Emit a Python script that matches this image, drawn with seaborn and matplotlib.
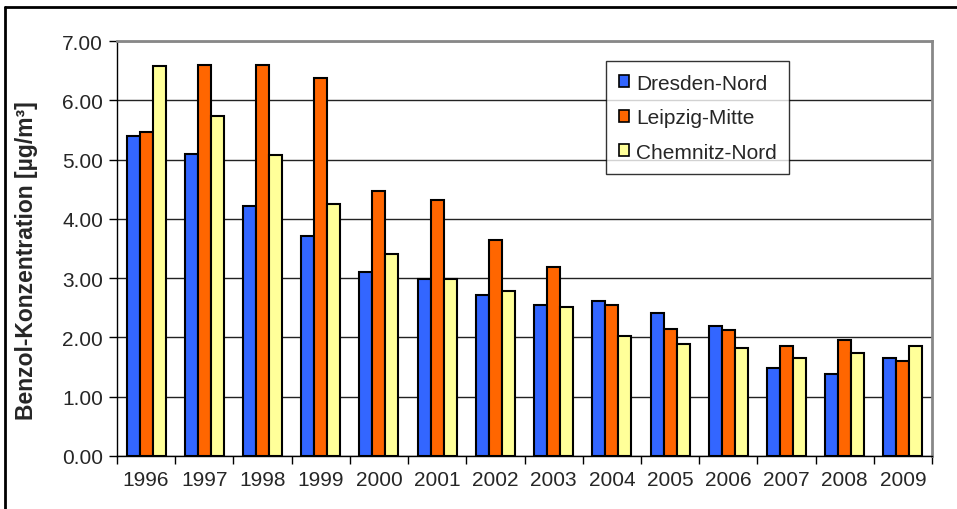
import matplotlib
matplotlib.use("Agg")
import matplotlib.pyplot as plt
from matplotlib.lines import Line2D
import numpy as np
import pandas as pd
import seaborn as sns

years = ["1996", "1997", "1998", "1999", "2000", "2001", "2002",
         "2003", "2004", "2005", "2006", "2007", "2008", "2009"]
dresden_nord = [5.40, 5.10, 4.21, 3.71, 3.11, 2.98, 2.72, 2.55, 2.61, 2.42, 2.19, 1.49, 1.39, 1.66]
leipzig_mitte = [5.47, 6.60, 6.60, 6.37, 4.47, 4.31, 3.65, 3.18, 2.55, 2.15, 2.12, 1.85, 1.96, 1.60]
chemnitz_nord = [6.57, 5.74, 5.08, 4.25, 3.41, 2.98, 2.79, 2.52, 2.02, 1.89, 1.82, 1.66, 1.73, 1.85]
stations = ["Dresden-Nord", "Leipzig-Mitte", "Chemnitz-Nord"]
y_ticks = [0, 1, 2, 3, 4, 5, 6, 7]

df = pd.DataFrame({
    "Jahr": years * 3,
    "Wert": dresden_nord + leipzig_mitte + chemnitz_nord,
    "Station": [s for s in stations for _ in years],
})

sns.set_theme(style="white")
plt.rcParams["font.family"] = ["Liberation Sans", "DejaVu Sans"]

fig = plt.figure(figsize=(9.57, 5.10), dpi=100)
ax = fig.add_axes([117 / 957, 1 - 457 / 510, (932 - 117) / 957, (457 - 42) / 510])

palette = {"Dresden-Nord": "#3366FF", "Leipzig-Mitte": "#FF6600", "Chemnitz-Nord": "#FFFF99"}
sns.barplot(data=df, x="Jahr", y="Wert", hue="Station", order=years,
            hue_order=stations, palette=palette, width=0.67, gap=0,
            edgecolor="black", linewidth=1.5, saturation=1, ax=ax, zorder=3)

ax.set_xlim(-0.5, len(years) - 0.5)
ax.set_ylim(0, 7)
ax.set_yticks(y_ticks)
ax.set_yticklabels([f"{v:.2f}" for v in y_ticks], fontsize=15)
ax.yaxis.grid(True, color="#222222", linewidth=1.0, zorder=0)
ax.set_axisbelow(True)

# category boundaries carry the tick marks, centres carry the labels
ax.set_xticks(np.arange(-0.5, len(years), 1.0))
ax.set_xticklabels([])
ax.set_xticks(np.arange(len(years)), minor=True)
ax.set_xticklabels(years, minor=True, fontsize=15)
ax.tick_params(axis="x", which="major", length=6, width=1, color="black", direction="out", bottom=True)
ax.tick_params(axis="x", which="minor", length=0, pad=10)
ax.tick_params(axis="y", length=6, width=1, color="black", direction="out", left=True, pad=4)

ax.set_xlabel("")
ax.set_ylabel("Benzol-Konzentration [µg/m³]", fontsize=16.5, fontweight="bold")
ax.yaxis.set_label_coords(-0.097, 0.472)

for side in ["left", "bottom"]:
    ax.spines[side].set_color("black")
    ax.spines[side].set_linewidth(1.0)
for side in ["top", "right"]:
    ax.spines[side].set_visible(True)
    ax.spines[side].set_color("#888888")
    ax.spines[side].set_linewidth(2.0)

leg = ax.legend(loc="upper left", bbox_to_anchor=((606 - 117) / 815, (457 - 62) / 415),
                fontsize=15, frameon=True, fancybox=False, shadow=False,
                handlelength=0.5, handleheight=0.5, handletextpad=0.35,
                labelspacing=0.75, borderpad=0.6, borderaxespad=0)
leg.get_frame().set_edgecolor("black")
leg.get_frame().set_linewidth(1.0)
for h in leg.legend_handles:
    h.set_linewidth(1.2)
    h.set_edgecolor("black")

# outer chart frame
fig.add_artist(Line2D([5 / 957, 1.0], [1 - 8 / 510, 1 - 8 / 510], color="black", linewidth=2.0))
fig.add_artist(Line2D([5 / 957, 5 / 957], [0, 1 - 8 / 510], color="black", linewidth=2.0))

fig.savefig("out.png", dpi=100)
